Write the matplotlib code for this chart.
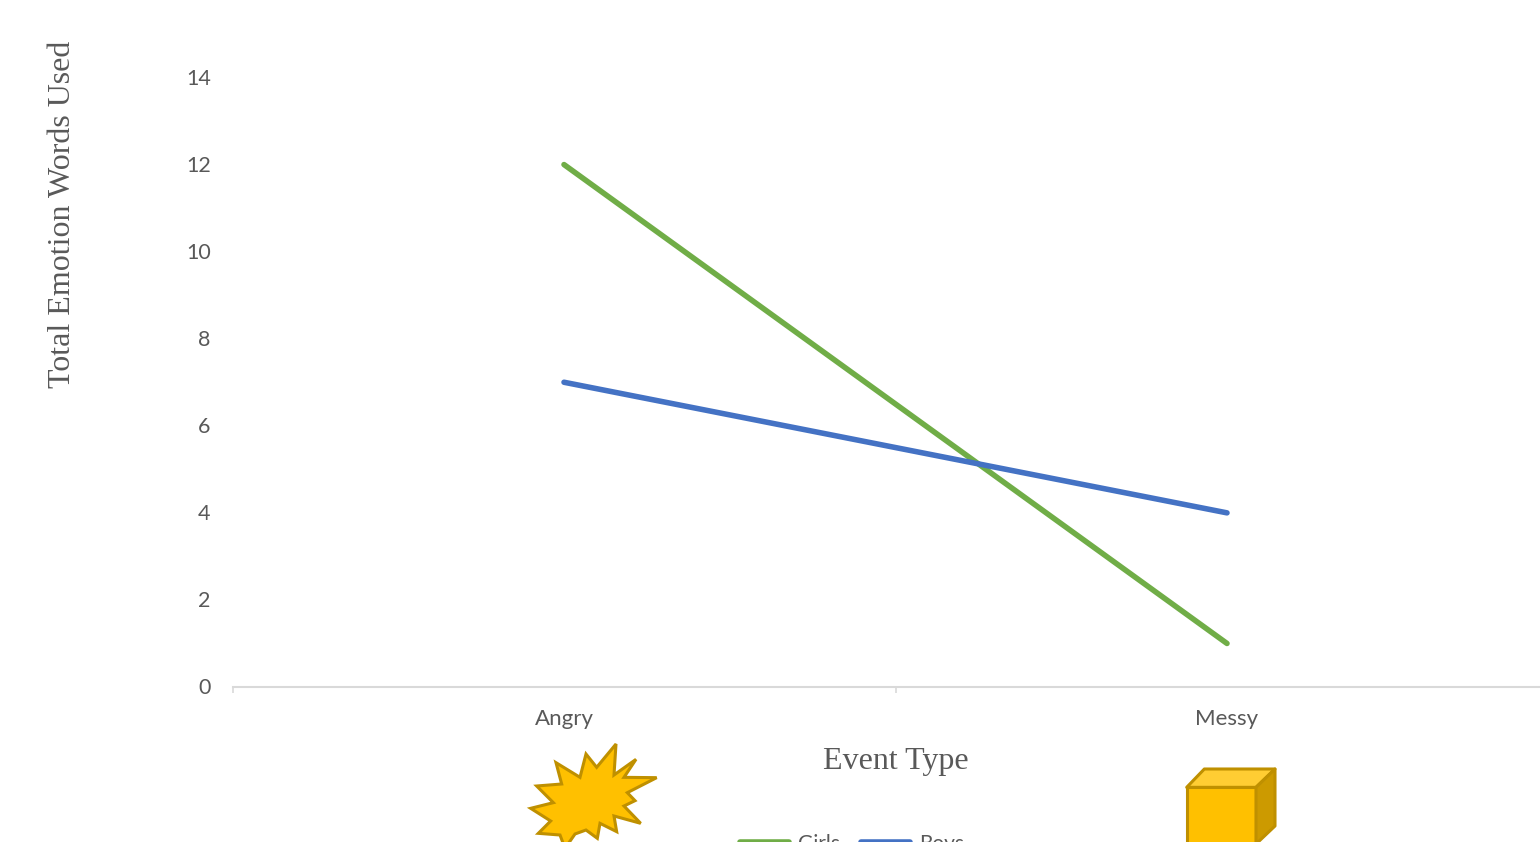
import matplotlib
matplotlib.use("Agg")
import matplotlib.pyplot as plt
from matplotlib.patches import Polygon
from matplotlib.transforms import Affine2D, ScaledTranslation

categories = ["Angry", "Messy"]
girls = [12, 1]
boys = [7, 4]
y_ticks = [0, 2, 4, 6, 8, 10, 12, 14]

GREEN = "#70AD47"
BLUE = "#4472C4"
TEXT = "#595959"
AXIS = "#D9D9D9"
GOLD = "#FFC000"
GOLD_EDGE = "#BF9000"

W, H = 1540, 842
fig = plt.figure(figsize=(W / 100, H / 100), dpi=100, facecolor="white")
ax = fig.add_axes([232.5 / W, 155 / H, 1326 / W, 609.5 / H])

x = range(len(categories))
ax.plot(x, girls, color=GREEN, lw=4, solid_capstyle="round", label="Girls")
ax.plot(x, boys, color=BLUE, lw=4, solid_capstyle="round", label="Boys")

ax.set_xlim(-0.5, 1.5)
ax.set_ylim(0, 14)
for side in ("top", "left", "right"):
    ax.spines[side].set_visible(False)
ax.spines["bottom"].set_color(AXIS)
ax.spines["bottom"].set_linewidth(1.5)

# Category labels sit between tick marks, which fall on the category boundaries
ax.set_xticks(list(x), categories)
ax.set_xticks([-0.5, 0.5, 1.5], minor=True)
ax.tick_params(axis="x", which="major", length=0, pad=16, labelsize=16, labelcolor=TEXT)
ax.tick_params(axis="x", which="minor", length=4.5, width=1.2, color=AXIS)
ax.set_yticks(y_ticks)
ax.tick_params(axis="y", length=0, pad=15.7, labelsize=15.5, labelcolor=TEXT)
nudge = ScaledTranslation(0, -1.5 / 100, fig.dpi_scale_trans)
for lab in ax.get_xticklabels() + ax.get_yticklabels():
    lab.set_family("Lato")
for lab in ax.get_yticklabels():
    lab.set_verticalalignment("center")
    lab.set_transform(lab.get_transform() + nudge)

fig.text(896 / W, 1 - 762 / H, "Event Type", family="Liberation Serif", fontsize=23,
         color=TEXT, ha="center", va="center")
fig.text(63 / W, 1 - 214.5 / H, "Total Emotion Words Used", family="Liberation Serif",
         fontsize=23, color=TEXT, rotation=90, ha="center", va="center")

leg = ax.legend(loc="center", bbox_to_anchor=(852 / W, 1 - 844 / H),
                bbox_transform=fig.transFigure, ncol=2, frameon=False,
                prop={"family": "Lato", "size": 15}, labelcolor=TEXT,
                handlelength=2.35, handleheight=0.8, handletextpad=0.4, columnspacing=1.05)

# Event icons below the axis, drawn in pixel space with y measured from the top
px = Affine2D().scale(1, -1).translate(0, H)


def icon(points, face, join="miter"):
    fig.add_artist(Polygon(points, closed=True, facecolor=face, edgecolor=GOLD_EDGE,
                           linewidth=2.2, joinstyle=join, transform=px))


burst = [(348, 162), (342, 255), (408, 208), (372, 262), (470, 263), (382, 308),
         (405, 332), (372, 348), (422, 400), (342, 378), (350, 425), (300, 400),
         (292, 445), (258, 420), (225, 432), (195, 475), (180, 435), (115, 430),
         (152, 393), (92, 355), (160, 338), (110, 288), (185, 282), (168, 218),
         (240, 262), (258, 192), (290, 232)]
icon([(500 + a / 3, 690 + b / 3) for a, b in burst], GOLD)

to_px = lambda pts: [(1150 + a / 3, 700 + b / 3) for a, b in pts]
icon(to_px([(110, 262), (318, 262), (318, 480), (110, 480)]), GOLD, "round")
icon(to_px([(110, 262), (163, 207), (375, 207), (318, 262)]), "#FFCD33", "round")
icon(to_px([(318, 262), (375, 207), (375, 378), (318, 432)]), "#CC9A00", "round")

fig.savefig("out.png", dpi=100, facecolor="white")
